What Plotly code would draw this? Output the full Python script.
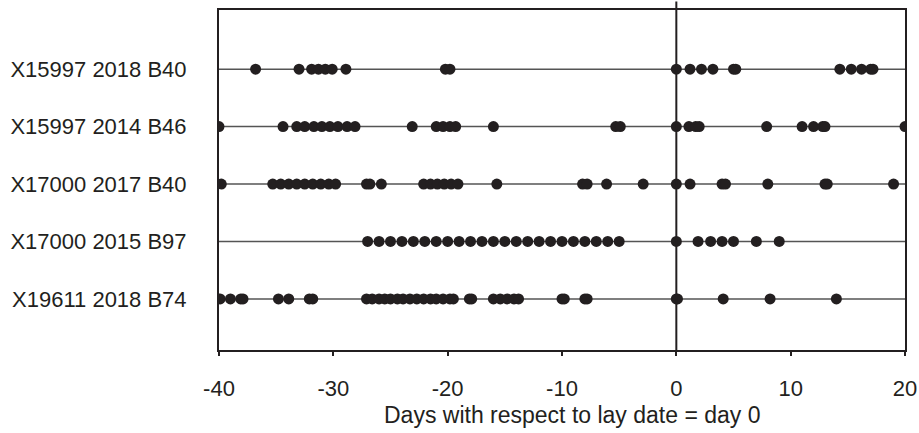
import plotly.graph_objects as go

categories = ["X15997 2018 B40", "X15997 2014 B46", "X17000 2017 B40",
              "X17000 2015 B97", "X19611 2018 B74"]
row_pos = [5, 4, 3, 2, 1]

days_r1 = [-36.8, -33.0, -31.9, -31.3, -30.7, -30.1, -28.9, -20.2, -19.8,
           0.0, 1.2, 2.2, 3.2, 5.0, 5.2, 14.3, 15.3, 16.2, 17.0, 17.2]
days_r2 = [-40.0, -34.4, -33.2, -32.5, -31.7, -31.0, -30.3, -29.6, -28.8, -28.1,
           -23.1, -21.0, -20.4, -19.8, -19.3, -16.0, -5.3, -4.9,
           0.0, 1.1, 1.7, 2.0, 7.9, 11.0, 12.0, 12.8, 13.0, 20.0]
days_r3 = [-39.8, -35.3, -34.6, -33.9, -33.2, -32.5, -31.8, -31.1, -30.4, -29.8,
           -27.1, -26.8, -25.8, -22.1, -21.5, -20.9, -20.3, -19.7, -19.1, -15.7,
           -8.2, -7.8, -6.1, -2.9, 0.0, 1.2, 4.0, 4.3, 8.0, 13.0, 13.2, 19.0]
days_r4 = [-27, -26, -25, -24, -23, -22, -21, -20, -19, -18, -17, -16, -15,
           -14, -13, -12, -11, -10, -9, -8, -7, -6, -5,
           0.0, 1.9, 3.0, 4.0, 5.0, 7.0, 9.0]
days_r5 = [-39.9, -39.0, -38.1, -37.9, -34.8, -33.9, -32.1, -31.8,
           -27.1, -26.6, -26.0, -25.5, -25.0, -24.4, -23.9, -23.3, -22.7, -22.1,
           -21.5, -21.0, -20.4, -19.8, -19.5, -18.1, -17.9,
           -16.0, -15.4, -14.8, -14.2, -13.8, -10.0, -9.8, -8.0, -7.8,
           0.0, 0.1, 4.1, 8.2, 14.0]

all_days = [days_r1, days_r2, days_r3, days_r4, days_r5]

x_ticks = [-40, -30, -20, -10, 0, 10, 20]
x_title = "Days with respect to lay date = day 0"

fig = go.Figure()

# horizontal row lines
for yv in row_pos:
    fig.add_trace(go.Scatter(x=[-40, 20], y=[yv, yv], mode="lines",
                             line=dict(color="#555555", width=1.5),
                             hoverinfo="skip", showlegend=False))

for yv, d in zip(row_pos, all_days):
    fig.add_trace(go.Scatter(x=d, y=[yv] * len(d), mode="markers",
                             marker=dict(color="#231f20", size=11),
                             showlegend=False))

# vertical line at day 0
fig.add_shape(type="line", xref="x", yref="paper", x0=0, x1=0, y0=-0.005, y1=1.025,
              line=dict(color="#231f20", width=2))

# x-axis title (slightly right of centre, as in the reference)
fig.add_annotation(text=x_title, xref="paper", yref="paper", x=0.515, y=-0.19,
                   xanchor="center", yanchor="middle", showarrow=False,
                   font=dict(size=23))

fig.update_layout(
    width=919, height=433,
    margin=dict(l=219, r=14, t=10, b=83),
    paper_bgcolor="white", plot_bgcolor="white",
    font=dict(family="Liberation Sans, Arial, sans-serif", size=22, color="#231f20"),
    xaxis=dict(range=[-40, 20], tickvals=x_ticks, ticktext=[str(t) for t in x_ticks],
               showgrid=False, zeroline=False, showline=True, mirror=True,
               linecolor="#231f20", linewidth=2, ticks="outside", ticklen=4,
               tickwidth=1.5, tickcolor="#231f20", ticklabelstandoff=14,
               automargin=False),
    yaxis=dict(range=[0.11, 6.03], tickvals=row_pos, ticktext=categories,
               showgrid=False, zeroline=False, showline=True, mirror=True,
               linecolor="#231f20", linewidth=2, ticks="", ticklabelstandoff=26,
               automargin=False),
)

fig.write_html("out.html")
